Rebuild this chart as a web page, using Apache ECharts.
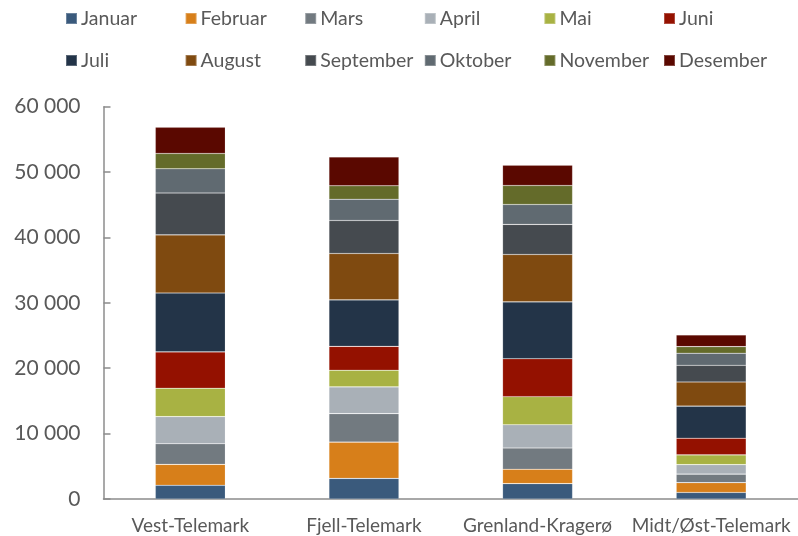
<!DOCTYPE html>
<html>
<head>
<meta charset="utf-8">
<script src="https://cdn.jsdelivr.net/npm/echarts@6/dist/echarts.min.js"></script>
<style>
  html, body { margin: 0; padding: 0; background: #fff; }
  #chart { width: 798px; height: 536px; }
</style>
</head>
<body>
<div id="chart"></div>
<script>
// regioner
const regions = ["Vest-Telemark", "Fjell-Telemark", "Grenland-Kragerø", "Midt/Øst-Telemark"];
// månedsverdier per region (lest av bildet)
const januar    = [2100, 3150, 2350, 1000];
const februar   = [3200, 5550, 2200, 1500];
const mars      = [3150, 4350, 3250, 1300];
const april     = [4150, 4100, 3550, 1450];
const mai       = [4350, 2550, 4300, 1500];
const juni      = [5550, 3650, 5800, 2550];
const juli      = [9000, 7100, 8700, 4900];
const august    = [8900, 7100, 7250, 3700];
const september = [6400, 5050, 4600, 2550];
const oktober   = [3700, 3250, 3050, 1850];
const november  = [2350, 2050, 2900, 1000];
const desember  = [4000, 4400, 3100, 1800];

const months = ["Januar", "Februar", "Mars", "April", "Mai", "Juni",
  "Juli", "August", "September", "Oktober", "November", "Desember"];
const monthData = [januar, februar, mars, april, mai, juni,
  juli, august, september, oktober, november, desember];
const colors = ["#3a5a7c", "#d77f1a", "#727a80", "#a9b0b7", "#a8b243", "#941100",
  "#233448", "#7f4a10", "#454a4f", "#606a71", "#646b2a", "#5a0800"];

const yTicks = { min: 0, max: 60000, interval: 10000 };

const font = "Lato, 'Open Sans', sans-serif";
const textColor = "#595959";

const chart = echarts.init(document.getElementById("chart"));

// én legend per element, for faste kolonner som i originalen
const legends = months.map((m, i) => ({
  data: [m],
  left: 65 + (i % 6) * 119.6,
  top: i < 6 ? 7 : 49,
  itemWidth: 11,
  itemHeight: 11,
  itemGap: 0,
  icon: "rect",
  padding: 0,
  textStyle: { fontFamily: font, fontSize: 19.5, color: textColor, lineHeight: 23, padding: [0, 0, 0, -1] }
}));

const option = {
  animation: false,
  color: colors,
  legend: legends,
  grid: {
    left: 103.5,
    top: 106.7,
    width: 699,
    bottom: 37,
    containLabel: false
  },
  xAxis: {
    type: "category",
    data: regions,
    axisLine: { show: true, lineStyle: { color: "#8c8c8c", width: 1.5 } },
    axisTick: { show: false },
    axisLabel: { fontFamily: font, fontSize: 19, color: textColor, margin: 17, interval: 0 }
  },
  yAxis: {
    type: "value",
    min: yTicks.min,
    max: yTicks.max,
    interval: yTicks.interval,
    axisLine: { show: true, lineStyle: { color: "#8c8c8c", width: 1.5 } },
    axisTick: { show: true, inside: true, length: 7, lineStyle: { color: "#8c8c8c", width: 1.5 } },
    splitLine: { show: false },
    axisLabel: {
      fontFamily: font, fontSize: 21, color: textColor, margin: 23,
      formatter: v => String(v).replace(/\B(?=(\d{3})+(?!\d))/g, " ")
    }
  },
  series: months.map((m, i) => ({
    name: m,
    type: "bar",
    stack: "total",
    barWidth: 70,
    data: monthData[i],
    itemStyle: { borderColor: "rgba(255,255,255,0.25)", borderWidth: 0.6 }
  }))
};

chart.setOption(option);
</script>
</body>
</html>
